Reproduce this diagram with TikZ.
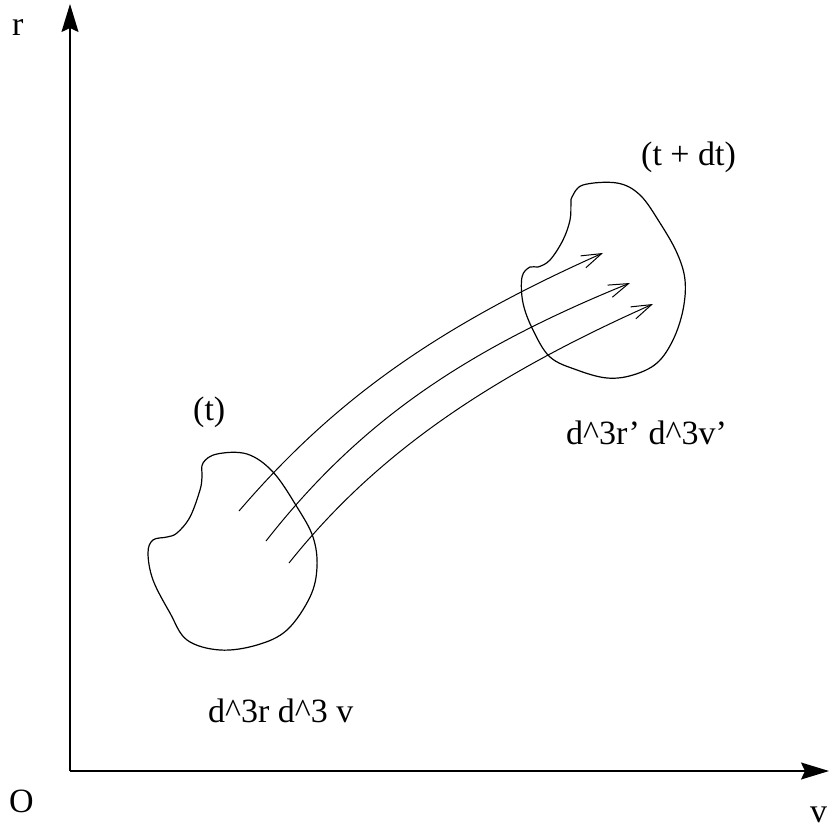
\documentclass[tikz,border=0pt]{standalone}
\usepackage{fontspec}
\setmainfont{Liberation Serif}
\usetikzlibrary{arrows.meta}
\tikzset{
  axis/.style={line width=1.4pt,-{Stealth[length=28pt,width=17pt,inset=4pt]}},
  flow/.style={line width=1pt,-{Straight Barb[length=20pt,width=13pt,line width=1pt]}},
  blob/.style={line width=1.2pt},
  lbl/.style={inner sep=0pt,anchor=base west,font=\fontsize{34}{40}\selectfont}
}
\begin{document}
\begin{tikzpicture}[x=1pt,y=-1pt]
\useasboundingbox (0,0) rectangle (829,830);
% axes
\coordinate (O) at (70,771);
\coordinate (ytip) at (70,4);
\coordinate (xtip) at (829,771);
\draw[axis] (O) -- (ytip);
\draw[axis] (O) -- (xtip);
\node[lbl] (rl) at (12,35) {r};
\node[lbl] (ol) at (9,812) {O};
\node[lbl] (vl) at (810,822) {v};
% blob at time t
\draw[blob] plot[smooth cycle,tension=0.6] coordinates {
 (203,463) (217,454) (247,454) (273,472) (297,507) (313,537) (317,567)
 (310,597) (287,630) (257,645) (220,650) (187,640) (170,613) (153,580)
 (148,553) (153,540) (167,537) (177,533) (190,517) (200,490) (202,477)};
% blob at time t+dt
\draw[blob] plot[smooth cycle,tension=0.6] coordinates {
 (572,197) (583,185) (617,183) (640,195) (660,223) (677,253) (685,280)
 (683,310) (673,340) (657,363) (633,375) (607,378) (577,370) (550,357)
 (533,330) (523,303) (522,277) (530,267) (538,267) (550,260) (563,240)
 (570,220) (571,203)};
% flow lines
\coordinate (a0) at (239,511); \coordinate (a1) at (603,253);
\coordinate (b0) at (266,541); \coordinate (b1) at (630,283);
\coordinate (c0) at (289,563); \coordinate (c1) at (653,304);
\draw[flow] (a0) .. controls (330,405) and (430,330) .. (a1);
\draw[flow] (b0) .. controls (357,425) and (460,352) .. (b1);
\draw[flow] (c0) .. controls (375,455) and (487,378) .. (c1);
% labels
\node[lbl] (t1) at (193,420) {(t)};
\node[lbl] (t2) at (641,165) {(t + dt)};
\node[lbl] (d1) at (208,722) {d\textasciicircum 3r d\textasciicircum 3 v};
\node[lbl] (d2) at (566,444) {d\textasciicircum 3r' d\textasciicircum 3v'};
\end{tikzpicture}
\end{document}
